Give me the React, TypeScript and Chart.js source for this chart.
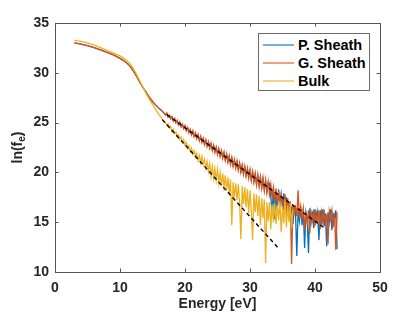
import React, { useEffect, useRef } from 'react';
import { Chart, registerables } from 'chart.js';

Chart.register(...registerables);

const seriesNames = ['P. Sheath', 'G. Sheath', 'Bulk'];
const seriesColors = ['#0072BD', '#D95319', '#EDB120'];

const xTicks = [0, 10, 20, 30, 40, 50];
const yTicks = [10, 15, 20, 25, 30, 35];

// smooth low-energy part (eV)
const smoothEnergy = [3, 4, 5, 6, 7, 8, 9, 10, 10.5, 11, 11.5, 12, 12.5, 13, 13.5, 14, 14.5, 15, 15.5, 16, 16.5];
const sheathSmooth = [33.0, 32.88, 32.72, 32.52, 32.3, 32.05, 31.8, 31.45, 31.25, 31.0, 30.7, 30.25, 29.7, 29.1, 28.55, 28.05, 27.55, 27.12, 26.75, 26.43, 26.15];
const bulkSmooth = [33.25, 33.15, 33.0, 32.78, 32.52, 32.25, 31.97, 31.7, 31.5, 31.25, 30.95, 30.5, 29.9, 29.25, 28.6, 27.95, 27.35, 26.82, 26.3, 25.8, 25.35];

// noisy high-energy part, sampled every 0.2 eV
const energyStep = 0.2;
const sheathNoisyStart = 17.0;
const bulkNoisyStart = 16.8;

const pSheathNoisy = [
  25.8, 25.9, 25.6, 25.7, 25.45,
  25.55, 25.2, 25.36, 25.02, 25.18,
  24.82, 25.0, 24.63, 24.8, 24.45,
  24.64, 24.24, 24.46, 24.05, 24.27,
  23.84, 24.1, 23.66, 23.9, 23.47,
  23.74, 23.27, 23.55, 23.08, 23.36,
  22.86, 23.2, 22.7, 23.0, 22.5,
  22.85, 22.3, 22.65, 22.1, 22.46,
  21.9, 22.3, 21.72, 22.1, 21.52,
  21.95, 21.3, 21.78, 21.1, 21.58,
  20.9, 21.4, 20.72, 21.2, 20.54,
  21.05, 20.33, 20.86, 20.12, 20.66,
  19.92, 20.5, 19.74, 20.3, 19.56,
  20.16, 19.3, 19.98, 19.12, 19.8,
  18.9, 19.65, 18.7, 19.46, 18.52,
  19.3, 18.3, 19.12, 18.1, 18.94,
  18.9, 17.6, 15.9, 18.4, 15.3,
  17.9, 16.2, 18.3, 16.6, 17.8,
  16.4, 17.9, 16.0, 17.5, 15.7,
  16.9, 15.4, 16.6, 14.8, 16.4,
  16.0, 11.6, 16.2, 15.1, 16.5,
  14.7, 16.3, 12.4, 16.0, 15.3,
  11.9, 16.4, 15.0, 16.1, 14.4,
  16.3, 15.2, 16.0, 13.2, 16.2,
  15.1, 16.3, 14.6, 15.9, 12.6,
  16.0, 15.0, 16.3, 14.2, 15.8,
  15.4, 16.2, 12.3,
];

const gSheathNoisy = [
  25.74, 25.95, 25.55, 25.76, 25.37,
  25.6, 25.15, 25.42, 24.96, 25.23,
  24.75, 25.06, 24.57, 24.87, 24.38,
  24.7, 24.17, 24.52, 23.98, 24.33,
  23.76, 24.17, 23.58, 23.98, 23.39,
  23.81, 23.18, 23.63, 22.99, 23.44,
  22.77, 23.28, 22.59, 23.09, 22.4,
  22.92, 22.19, 22.74, 22.0, 22.55,
  21.78, 22.39, 21.6, 22.2, 21.41,
  22.04, 21.19, 21.86, 21.0, 21.67,
  20.79, 21.5, 20.61, 21.31, 20.42,
  21.14, 20.21, 20.96, 20.02, 20.77,
  19.8, 20.61, 19.62, 20.42, 19.43,
  20.28, 19.19, 20.1, 19.0, 19.91,
  18.76, 19.77, 18.58, 19.58, 18.39,
  19.44, 18.15, 19.26, 17.96, 19.07,
  17.8, 18.8, 17.5, 18.5, 17.1,
  18.4, 16.8, 18.1, 16.5, 17.8,
  17.3, 16.2, 17.8, 15.9, 17.4,
  15.8, 17.1, 10.8, 16.8, 15.9,
  16.5, 15.6, 18.2, 15.4, 16.6,
  15.5, 16.4, 14.2, 16.1, 15.0,
  16.2, 13.9, 16.0, 15.2, 16.3,
  14.6, 15.9, 15.1, 16.2, 14.3,
  16.0, 15.0, 16.3, 14.9, 15.8,
  12.8, 16.1, 15.3, 16.2, 14.5,
  15.9, 12.2, 16.0,
];

const bulkNoisy = [
  25.12,
  25.0, 24.75, 24.88, 24.45, 24.62,
  24.1, 24.32, 23.85, 24.05, 23.6,
  23.78, 23.3, 23.55, 23.0, 23.3,
  22.7, 23.0, 22.4, 22.7, 22.1,
  22.45, 21.85, 22.2, 21.55, 21.95,
  21.2, 21.7, 20.95, 21.6, 20.8,
  21.3, 20.4, 21.1, 20.1, 20.9,
  19.6, 20.6, 19.4, 20.4, 19.2,
  20.3, 18.9, 20.0, 18.6, 19.9,
  18.5, 19.7, 18.2, 19.5, 17.9,
  19.3, 14.7, 19.0, 17.5, 18.9,
  17.2, 18.8, 16.9, 13.3, 18.6,
  16.8, 18.5, 16.5, 18.3, 15.9,
  18.2, 16.2, 13.2, 17.9, 16.0,
  17.8, 15.6, 17.6, 14.7, 17.4,
  15.4, 17.3, 10.9, 17.0, 15.1,
  17.0, 14.3, 16.8, 15.0, 16.9,
  14.8, 16.7, 15.2, 17.1, 14.0,
  16.6, 14.9, 17.2, 14.5, 16.7,
  15.0, 16.9, 14.4, 16.3,
];

// linear fits (dashed)
const sheathFitEnergy = [17.2, 41.5];
const sheathFitValue = [25.8, 14.4];
const bulkFitEnergy = [16.5, 34.5];
const bulkFitValue = [25.3, 12.3];

const FONT = '"Liberation Sans", Arial, Helvetica, sans-serif';
const AXIS_COLOR = '#262626';

function buildSeries(smoothY: number[], start: number, noisy: number[]) {
  const pts = smoothEnergy.map((e, i) => ({ x: e, y: smoothY[i] }));
  noisy.forEach((v, i) => pts.push({ x: Math.round((start + i * energyStep) * 100) / 100, y: v }));
  return pts;
}

const boxPlugin = {
  id: 'matlabBox',
  afterDraw(chart: any) {
    const { ctx, chartArea } = chart;
    const { left, right, top, bottom } = chartArea;
    const xs = chart.scales.x;
    const ys = chart.scales.y;
    ctx.save();
    ctx.strokeStyle = '#555555';
    ctx.lineWidth = 1;
    ctx.strokeRect(Math.round(left) + 0.5, Math.round(top) + 0.5, Math.round(right - left), Math.round(bottom - top));
    const tl = 3.5;
    ctx.beginPath();
    xTicks.forEach((t) => {
      const px = Math.round(xs.getPixelForValue(t)) + 0.5;
      ctx.moveTo(px, bottom);
      ctx.lineTo(px, bottom - tl);
      ctx.moveTo(px, top);
      ctx.lineTo(px, top + tl);
    });
    yTicks.forEach((t) => {
      const py = Math.round(ys.getPixelForValue(t)) + 0.5;
      ctx.moveTo(left, py);
      ctx.lineTo(left + tl, py);
      ctx.moveTo(right, py);
      ctx.lineTo(right - tl, py);
    });
    ctx.stroke();

    // y-axis title with subscript
    ctx.translate(17, (top + bottom) / 2);
    ctx.rotate(-Math.PI / 2);
    ctx.fillStyle = AXIS_COLOR;
    ctx.textBaseline = 'alphabetic';
    const big = `bold 14px ${FONT}`;
    const small = `bold 10px ${FONT}`;
    ctx.font = big;
    const w1 = ctx.measureText('ln(f').width;
    const w3 = ctx.measureText(')').width;
    ctx.font = small;
    const w2 = ctx.measureText('e').width;
    const x0 = -(w1 + w2 + w3) / 2;
    ctx.font = big;
    ctx.fillText('ln(f', x0, 5);
    ctx.font = small;
    ctx.fillText('e', x0 + w1, 8);
    ctx.font = big;
    ctx.fillText(')', x0 + w1 + w2, 5);
    ctx.restore();
  },
};

export default function App() {
  const canvasRef = useRef<HTMLCanvasElement | null>(null);

  useEffect(() => {
    document.body.style.margin = '0';
    const canvas = canvasRef.current;
    if (!canvas) return;
    const p = buildSeries(sheathSmooth, sheathNoisyStart, pSheathNoisy);
    const g = buildSeries(sheathSmooth, sheathNoisyStart, gSheathNoisy);
    const b = buildSeries(bulkSmooth, bulkNoisyStart, bulkNoisy);
    const lineWidth = 1.3;
    const chart = new Chart(canvas, {
      type: 'scatter',
      data: {
        datasets: [
          { label: seriesNames[0], data: p, borderColor: seriesColors[0], backgroundColor: seriesColors[0], showLine: true, pointRadius: 0, borderWidth: lineWidth, order: 5 },
          { label: seriesNames[1], data: g, borderColor: seriesColors[1], backgroundColor: seriesColors[1], showLine: true, pointRadius: 0, borderWidth: lineWidth, order: 4 },
          { label: seriesNames[2], data: b, borderColor: seriesColors[2], backgroundColor: seriesColors[2], showLine: true, pointRadius: 0, borderWidth: lineWidth, order: 3 },
          { label: 'fit1', data: sheathFitEnergy.map((e, i) => ({ x: e, y: sheathFitValue[i] })), borderColor: '#000', showLine: true, pointRadius: 0, borderWidth: 1.4, borderDash: [4, 3], order: 1 },
          { label: 'fit2', data: bulkFitEnergy.map((e, i) => ({ x: e, y: bulkFitValue[i] })), borderColor: '#000', showLine: true, pointRadius: 0, borderWidth: 1.4, borderDash: [4, 3], order: 1 },
        ],
      },
      options: {
        animation: false,
        responsive: false,
        maintainAspectRatio: false,
        devicePixelRatio: 1,
        layout: { padding: { top: 23, right: 40, left: 0, bottom: 0 } },
        plugins: { legend: { display: false }, tooltip: { enabled: false } },
        elements: { line: { tension: 0 } },
        scales: {
          x: {
            type: 'linear',
            min: 0,
            max: 50,
            afterBuildTicks: (s: any) => { s.ticks = xTicks.map((v) => ({ value: v })); },
            afterFit: (s: any) => { s.height = 43; },
            grid: { display: false, drawTicks: false },
            border: { display: false },
            ticks: { padding: 8, color: AXIS_COLOR, font: { family: FONT, size: 14, weight: 'bold' }, maxRotation: 0 },
            title: { display: true, text: 'Energy [eV]', color: AXIS_COLOR, font: { family: FONT, size: 14, weight: 'bold' }, padding: { top: 0, bottom: 2 } },
          },
          y: {
            type: 'linear',
            min: 10,
            max: 35,
            afterBuildTicks: (s: any) => { s.ticks = yTicks.map((v) => ({ value: v })); },
            afterFit: (s: any) => { s.width = 55; },
            grid: { display: false, drawTicks: false },
            border: { display: false },
            ticks: { padding: 6, color: AXIS_COLOR, font: { family: FONT, size: 14, weight: 'bold' } },
          },
        },
      },
      plugins: [boxPlugin],
    });
    return () => chart.destroy();
  }, []);

  const rowTops = [36, 54, 72];
  return (
    <div style={{ position: 'relative', width: 420, height: 315, background: '#fff' }}>
      <canvas ref={canvasRef} width={420} height={315} style={{ display: 'block', width: 420, height: 315 }} />
      <div
        style={{
          position: 'absolute',
          left: 258,
          top: 33,
          width: 112,
          height: 58,
          border: '1px solid #6a6a6a',
          background: '#fff',
          boxSizing: 'border-box',
        }}
      >
        {seriesNames.map((name, i) => (
          <div
            key={name}
            style={{
              position: 'absolute',
              left: 0,
              top: rowTops[i] - 33 - 1,
              height: 18,
              width: '100%',
              display: 'flex',
              alignItems: 'center',
            }}
          >
            <div style={{ marginLeft: 4, width: 31, height: 1.5, background: seriesColors[i], opacity: 0.55 }} />
            <span style={{ marginLeft: 4, fontFamily: FONT, fontWeight: 'bold', fontSize: 14.5, color: '#000', lineHeight: '18px', whiteSpace: 'nowrap' }}>{name}</span>
          </div>
        ))}
      </div>
    </div>
  );
}
